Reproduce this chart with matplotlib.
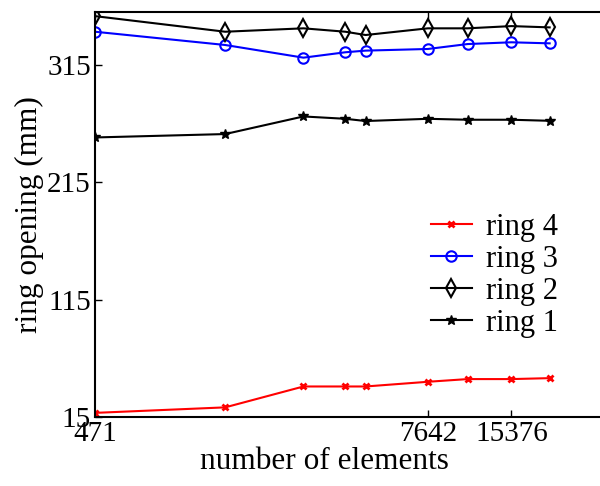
import matplotlib
matplotlib.use("Agg")
import matplotlib.pyplot as plt

plt.rcParams['font.family'] = ['Liberation Serif', 'DejaVu Serif']

# mesh sizes (number of elements)
elements = [471, 1401, 2698, 3833, 4540, 7642, 10660, 15376, 21190]
tick_elements = [471, 7642, 15376]
y_ticks = [15, 115, 215, 315]

# ring openings in mm
ring4 = [18.5, 23.2, 41.0, 41.0, 41.0, 45.0, 47.3, 47.3, 48.1]
ring3 = [343.3, 332.0, 321.2, 325.8, 327.2, 328.6, 332.8, 334.3, 333.4]
ring2 = [356.6, 343.3, 346.2, 343.3, 340.5, 346.2, 346.2, 348.1, 347.0]
ring1 = [253.2, 256.1, 271.1, 269.1, 267.2, 269.1, 268.3, 268.3, 267.4]

fig = plt.figure(figsize=(6, 4.86), dpi=100)
ax = fig.add_axes([0.1583, 0.142, 0.8417, 0.834])

ax.plot(elements, ring4, color='red', marker='x', ms=5, mew=2, lw=1.5, label='ring 4')
ax.plot(elements, ring3, color='blue', marker='o', ms=7.5, mfc='none', mew=1.5, lw=1.5, label='ring 3')
ax.plot(elements, ring2, color='black', marker='d', ms=9, mfc='none', mew=1.5, lw=1.5, label='ring 2')
ax.plot(elements, ring1, color='black', marker='*', ms=7, lw=1.5, label='ring 1')

ax.set_xscale('log')
ax.set_xlim(471, 32300)
ax.set_ylim(15, 360.4)
ax.set_xticks(tick_elements)
ax.set_xticklabels([str(v) for v in tick_elements])
ax.minorticks_off()
ax.set_yticks(y_ticks)
ax.tick_params(direction='in', top=True, right=False, labelsize=21, length=5, width=1, pad=3)
for s in ['left', 'bottom', 'top']:
    ax.spines[s].set_linewidth(1.5)
ax.spines['right'].set_visible(False)

ax.set_xlabel('number of elements', fontsize=22.5)
ax.xaxis.set_label_coords(0.455, -0.075, transform=ax.transAxes)
ax.set_ylabel('ring opening (mm)', fontsize=22.5)
ax.yaxis.set_label_coords(-0.10, 0.5, transform=ax.transAxes)

ax.legend(loc='upper left', bbox_to_anchor=(0.718, 0.562), bbox_transform=fig.transFigure,
          frameon=False, fontsize=22, handlelength=1.34, handletextpad=0.47,
          labelspacing=0.1, borderpad=0, borderaxespad=0)

fig.savefig('out.png', dpi=100)
